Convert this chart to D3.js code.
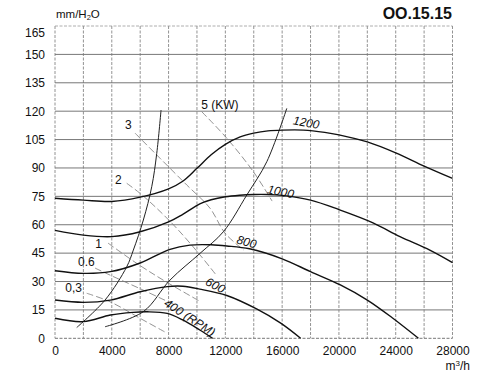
<!DOCTYPE html>
<html><head><meta charset="utf-8">
<script src="https://cdn.jsdelivr.net/npm/d3@7"></script>
<style>html,body{margin:0;padding:0;background:#fff;}svg{display:block;font-family:"Liberation Sans",Arial,sans-serif;}</style>
</head><body><svg id="c" width="490" height="380"></svg>
<script>
// ---- data ----
const yTicks = [0,15,30,45,60,75,90,105,120,135,150,165];
const xTicks = [0,4000,8000,12000,16000,20000,24000,28000];
const xGrid = d3.range(0, 28001, 2000);

const rpmNames = ["1200","1000","800","600","400"];
const rpm1200 = [[0,74],[2000,73],[4000,72.3],[6000,74.6],[8000,79],[9000,83],[10000,89.8],[11000,97],[12000,102.5],[13000,106.3],[14000,108.4],[15000,109.6],[16000,110],[17500,110],[19000,108.8],[20000,107.5],[22000,103.8],[24000,98],[26000,91],[28000,84.5]];
const rpm1000 = [[0,57],[2000,54.5],[4000,53.7],[6000,56.3],[8000,61.5],[9000,65.5],[10200,71],[11000,73.2],[12000,74.8],[13000,75.6],[14000,76],[15000,76],[16000,75.5],[18000,73],[20000,68],[22400,61],[24300,53.7],[26400,46.6],[28000,40]];
const rpm800 = [[0,35.7],[2000,34.3],[3900,35.2],[6000,39.8],[8100,47],[9500,49.2],[11000,49.4],[12100,48.8],[13700,47.3],[16000,42],[18000,35.2],[20100,28.2],[22000,20.2],[23800,10.6],[25600,0]];
const rpm600 = [[0,20.2],[2000,19],[3900,20.2],[6000,24.6],[7900,27.3],[9000,27.5],[10200,26],[12100,22.6],[14200,15.5],[15900,8],[17300,0]];
const rpm400 = [[0,10.6],[2000,8.8],[3900,12.3],[5500,13.7],[6500,14],[7900,13.2],[9000,9.7],[10200,4.4],[11100,0]];
const rpmCurves = [rpm1200, rpm1000, rpm800, rpm600, rpm400];

const limitLeft = [[1530,5.7],[3524,20.2],[5053,37.8],[5518,46.6],[6223,62.5],[6815,80.1],[7167,97.7],[7470,120.6]];
const limitRight = [[3524,6.1],[6223,14.1],[8104,30.8],[10218,44.9],[11860,56.3],[13510,75.7],[14919,93.3],[16328,121.5]];

const powerNames = ["5 (KW)","3","2","1","0.6","0,3"];
const power5 = [[10338,119.7],[12100,105.7],[13975,88],[15292,72.5]];
const power3 = [[5638,108.4],[7399,95.1],[9281,81],[10923,68.7],[11980,55.5],[13300,46.6]];
const power2 = [[5053,81.9],[5990,76.6],[7167,68.7],[8576,58.1],[10218,44],[11400,33]];
const power1 = [[3735,50.3],[5757,39.6],[7611,30.8],[10218,19.5]];
const power06 = [[2819,37.1],[3876,33.4],[6201,25.5],[8456,17.6]];
const power03 = [[2234,23.8],[3876,19.3],[6201,9.7],[7752,3.3]];
const powerLines = [power5, power3, power2, power1, power06, power03];

// ---- layout ----
const svg = d3.select("#c");
const x = d3.scaleLinear().domain([0,28000]).range([55,452.5]);
const y = d3.scaleLinear().domain([0,165]).range([338.3,26]);

// grid
const g = svg.append("g");
g.selectAll(".vg").data(xGrid).join("line")
  .attr("x1",d=>x(d)).attr("x2",d=>x(d)).attr("y1",y(165)).attr("y2",y(0))
  .attr("stroke","#777").attr("stroke-width",0.8).attr("stroke-dasharray","3,1.5");
g.selectAll(".hg").data(yTicks).join("line")
  .attr("x1",x(0)).attr("x2",x(28000)).attr("y1",d=>y(d)).attr("y2",d=>y(d))
  .attr("stroke",d=>d===165?"#999":"#777").attr("stroke-width",d=>d===165?0.8:1)
  .attr("stroke-dasharray",d=>(d===165||d===0)?"3,1.5":null);

// axes labels (via d3 axes, domain hidden)
const yAxis = svg.append("g").attr("transform",`translate(${x(0)-10},0)`)
  .call(d3.axisLeft(y).tickValues(yTicks).tickSize(0).tickPadding(0));
yAxis.select(".domain").remove();
yAxis.selectAll("text").attr("font-size",12).attr("fill","#111")
  .attr("font-family","Liberation Sans, Arial, sans-serif")
  .attr("dy",d=>d===165?"0.9em":"0.32em");
const xAxis = svg.append("g").attr("transform",`translate(0,${y(0)+8})`)
  .call(d3.axisBottom(x).tickValues(xTicks).tickSize(0).tickPadding(0).tickFormat(d3.format("d")));
xAxis.select(".domain").remove();
xAxis.selectAll("text").attr("font-size",12).attr("fill","#111")
  .attr("font-family","Liberation Sans, Arial, sans-serif");

// titles
svg.append("text").attr("x",56).attr("y",18).attr("font-size",11.5).attr("fill","#111")
  .html('mm/H<tspan font-size="7.5" dy="2">2</tspan><tspan dy="-2">O</tspan>');
svg.append("text").attr("x",452).attr("y",19).attr("text-anchor","end")
  .attr("font-size",16).attr("font-weight","bold").attr("fill","#111").text("OO.15.15");
svg.append("text").attr("x",470).attr("y",370).attr("text-anchor","end")
  .attr("font-size",12).attr("fill","#111")
  .html('m<tspan font-size="8" dy="-4">3</tspan><tspan dy="4">/h</tspan>');

const line = d3.line().x(d=>x(d[0])).y(d=>y(d[1])).curve(d3.curveCatmullRom.alpha(0.5));

// power lines (dashed)
svg.selectAll(".pw").data(powerLines).join("path")
  .attr("d",line).attr("fill","none").attr("stroke","#777")
  .attr("stroke-width",0.8).attr("stroke-dasharray","7,3");

// limit curves
svg.selectAll(".lim").data([limitLeft,limitRight]).join("path")
  .attr("d",line).attr("fill","none").attr("stroke","#222").attr("stroke-width",1);

// rpm curves
svg.selectAll(".rpm").data(rpmCurves).join("path")
  .attr("d",line).attr("fill","none").attr("stroke","#111").attr("stroke-width",1.4);

// labels
const rpmLabelPos = [[17700,114,10],[15900,77.5,12],[13500,51,15],[11300,28,28],[9500,11,33]];
const rpmLabelText = ["1200","1000","800","600","400 (RPM)"];
svg.selectAll(".rl").data(rpmLabelPos).join("text")
  .attr("transform",d=>`translate(${x(d[0])},${y(d[1])}) rotate(${d[2]})`)
  .attr("text-anchor","middle").attr("dy","0.35em").attr("font-size",12)
  .attr("font-style","italic").attr("fill","#111")
  .text((d,i)=>rpmLabelText[i]);

const powerLabelPos = [[10300,123.5,"start"],[5400,113,"end"],[4700,84,"end"],[3300,50,"end"],[2800,40.5,"end"],[1900,26.5,"end"]];
svg.selectAll(".pl").data(powerLabelPos).join("text")
  .attr("x",d=>x(d[0])).attr("y",d=>y(d[1])).attr("text-anchor",d=>d[2])
  .attr("dy","0.35em").attr("font-size",12).attr("fill","#111")
  .text((d,i)=>powerNames[i]);
</script></body></html>
